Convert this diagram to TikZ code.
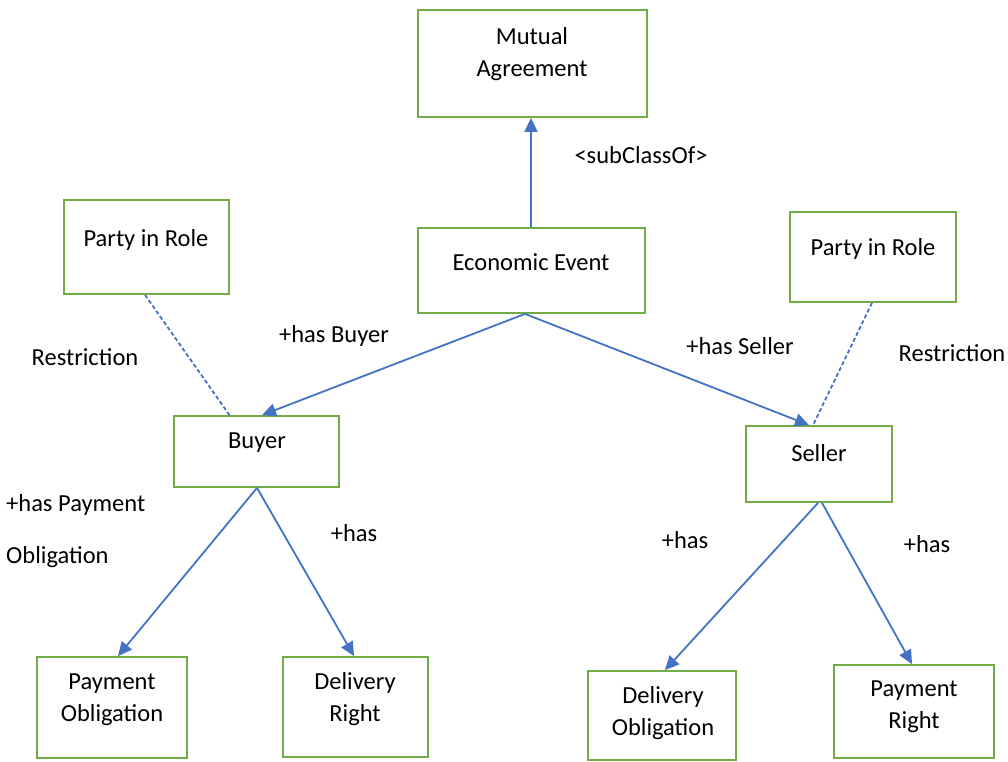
\documentclass[tikz,border=0pt]{standalone}
\usepackage{fontspec}
\setmainfont{Carlito}
\usetikzlibrary{arrows.meta}
\definecolor{boxgreen}{RGB}{112,173,71}
\definecolor{arrowblue}{RGB}{68,114,196}
\tikzset{
  box/.style={draw=boxgreen, line width=1.8pt, rectangle, inner sep=0pt},
  txt/.style={align=center, inner sep=0pt, font=\fontsize{24.5}{32}\selectfont},
  lbl/.style={inner sep=0pt, font=\fontsize{24.5}{32}\selectfont},
  conn/.style={draw=arrowblue, line width=1.8pt, -{Triangle[length=14pt,width=13pt]}},
  restr/.style={draw=arrowblue, line width=1.8pt, dash pattern=on 4pt off 2.5pt}
}
\begin{document}
\begin{tikzpicture}[x=1pt,y=-1pt]
\useasboundingbox (0,0) rectangle (1008,761);
\fill[white] (0,0) rectangle (1008,761);
% boxes
\node[box, minimum width=229, minimum height=107] (ma) at (532.5,63.5) {};
\node[box, minimum width=227, minimum height=85] (ee) at (531.5,270.5) {};
\node[box, minimum width=165, minimum height=94] (pl) at (146.5,247) {};
\node[box, minimum width=165, minimum height=71] (buyer) at (256.5,451.5) {};
\node[box, minimum width=166, minimum height=90] (pr) at (873,257) {};
\node[box, minimum width=146, minimum height=76] (seller) at (819,464) {};
\node[box, minimum width=150, minimum height=101] (po) at (112,707.5) {};
\node[box, minimum width=145, minimum height=100] (dr) at (355.5,707) {};
\node[box, minimum width=148, minimum height=89] (do) at (662,715.5) {};
\node[box, minimum width=160, minimum height=93] (prt) at (914,711.5) {};
% box texts
\node[txt] (maT) at (532,54) {Mutual\\Agreement};
\node[txt] (eeT) at (531,262) {Economic Event};
\node[txt] (plT) at (146,240) {Party in Role};
\node[txt] (buyerT) at (257,443) {Buyer};
\node[txt] (prT) at (873,249) {Party in Role};
\node[txt] (sellerT) at (819,453) {Seller};
\node[txt] (poT) at (112,700) {Payment\\Obligation};
\node[txt] (drT) at (355,699) {Delivery\\Right};
\node[txt] (doT) at (663,713) {Delivery\\Obligation};
\node[txt] (prtT) at (914,707) {Payment\\Right};
% connectors
\draw[conn] ([xshift=-0.5pt]ee.north) -- ([xshift=-0.5pt]ee.north |- ma.south);
\draw[conn] ([xshift=-6.5pt]ee.south) -- ([xshift=5.5pt]buyer.north);
\draw[conn] ([xshift=-6.5pt]ee.south) -- ([xshift=-10pt]seller.north);
\draw[restr] ([xshift=-1.5pt]pl.south) -- ([xshift=-27pt]buyer.north);
\draw[restr] ([xshift=-1pt]pr.south) -- ([xshift=-6pt]seller.north);
\draw[conn] ([xshift=0.5pt]buyer.south) -- ([xshift=6pt]po.north);
\draw[conn] ([xshift=0.5pt]buyer.south) -- ([xshift=-1.5pt]dr.north);
\draw[conn] ([xshift=-1pt]seller.south) -- ([xshift=3pt]do.north);
\draw[conn] ([xshift=3pt]seller.south) -- ([xshift=-2pt]prt.north);
% labels
\node[lbl] (l1) at (641,155) {<subClassOf>};
\node[lbl] (l2) at (334,336) {+has Buyer};
\node[lbl] (l3) at (85,357) {Restriction};
\node[lbl] (l4) at (740,346) {+has Seller};
\node[lbl] (l5) at (952,353) {Restriction};
\node[lbl, anchor=west] (l6) at (6,505) {+has Payment};
\node[lbl, anchor=west] (l7) at (6,557) {Obligation};
\node[lbl] (l8) at (354,533) {+has};
\node[lbl] (l9) at (685,540) {+has};
\node[lbl] (l10) at (927,544) {+has};
\end{tikzpicture}
\end{document}
